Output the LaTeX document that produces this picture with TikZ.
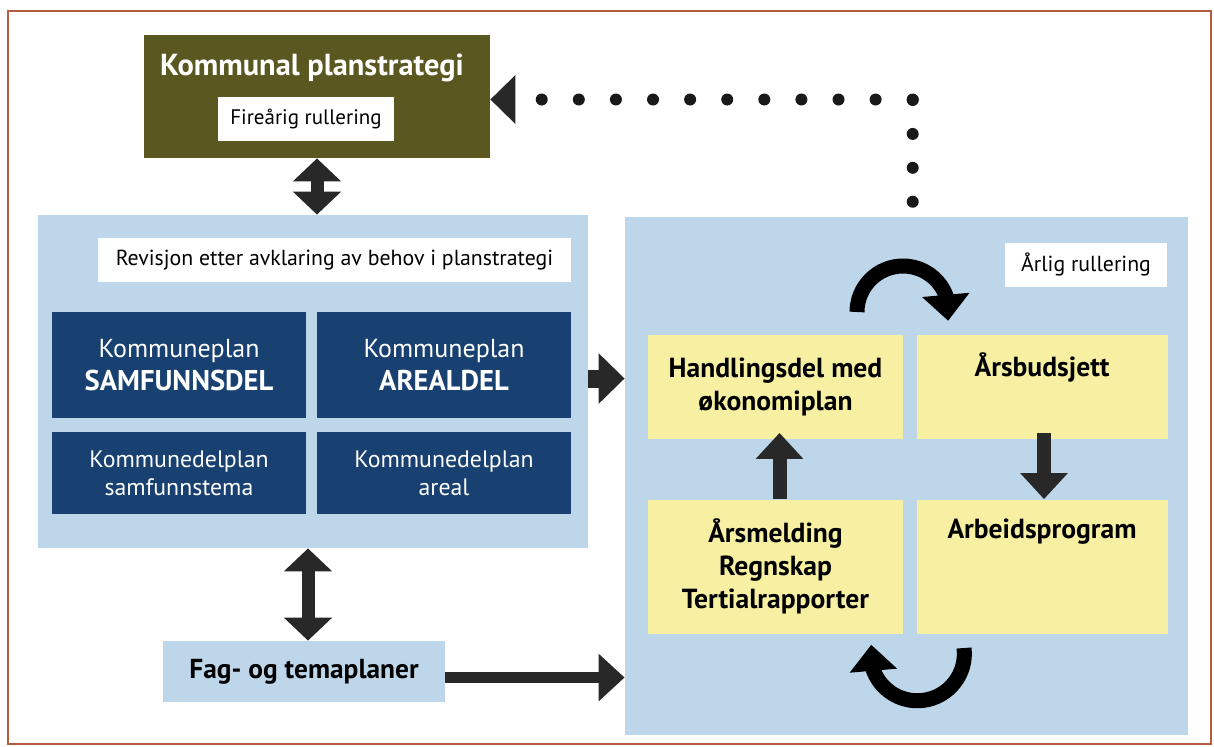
\documentclass[tikz,border=0pt]{standalone}
\usepackage{fontspec}
\setmainfont{PT Sans}
\usetikzlibrary{arrows.meta,bending}

\definecolor{framered}{RGB}{182,92,62}
\definecolor{strategyolive}{RGB}{90,88,32}
\definecolor{panelblue}{RGB}{189,214,234}
\definecolor{planblue}{RGB}{24,64,112}
\definecolor{actionyellow}{RGB}{247,240,163}
\definecolor{arrowgrey}{RGB}{40,40,40}

\begin{document}
\begin{tikzpicture}[x=0.5pt, y=-0.5pt,
    panel/.style={fill=panelblue, inner sep=0pt},
    labelbox/.style={fill=white, inner sep=0pt, minimum height=22pt, font=\fontsize{10.9}{12}\selectfont},
    planbox/.style={fill=planblue, text=white, inner sep=0pt, align=center, minimum width=127pt},
    actionbox/.style={fill=actionyellow, inner sep=0pt, align=center, font=\bfseries\fontsize{13.8}{16.5}\selectfont},
    fatarrow/.style={draw=arrowgrey, line width=7pt, -{Triangle[width=23pt,length=13pt]}},
    twoway/.style={draw=arrowgrey, line width=6.5pt, {Triangle[width=23.5pt,length=11.5pt]}-{Triangle[width=23.5pt,length=11.5pt]}},
    turnarrow/.style={draw=black, line width=7.5pt, -{Triangle[width=23pt,length=13pt]}},
    dotline/.style={draw=black!90, line width=6pt, line cap=round}]
\useasboundingbox (0,0) rectangle (1214,746);

% Outer frame
\draw[framered, line width=0.8pt] (8,11) rectangle (1211,744);

% Kommunal planstrategi
\node[fill=strategyolive, minimum width=173pt, minimum height=61.5pt] (strategi) at (317,96.5) {};
\node[text=white, font=\bfseries\fontsize{15.2}{18}\selectfont] (strategititle) at (312,68) {Kommunal planstrategi};
\node[labelbox, minimum width=88pt, font=\fontsize{10.5}{12}\selectfont] (firearig) at (306,119) {Fireårig rullering};

% Kommuneplanen (left panel)
\node[panel, minimum width=275pt, minimum height=166.5pt] (kommuneplan) at (313,381.5) {};
\node[labelbox, minimum width=236.5pt] (revisjon) at (334.5,260) {Revisjon etter avklaring av behov i planstrategi};
\node[planbox, minimum height=53pt, font=\fontsize{13}{16.5}\selectfont] (samfunnsdel) at (179,365)
    {Kommuneplan\\{\bfseries\fontsize{14.3}{16.5}\selectfont SAMFUNNSDEL}};
\node[planbox, minimum height=53pt, font=\fontsize{13}{16.5}\selectfont] (arealdel) at (444,365)
    {Kommuneplan\\{\bfseries\fontsize{14.3}{16.5}\selectfont AREALDEL}};
\node[planbox, minimum height=41pt, font=\fontsize{11.9}{14}\selectfont] (samfunnstema) at (179,473)
    {Kommunedelplan\\samfunnstema};
\node[planbox, minimum height=41pt, font=\fontsize{11.9}{14}\selectfont] (areal) at (444,473)
    {Kommunedelplan\\areal};

% Fag- og temaplaner
\node[panel, minimum width=141pt, minimum height=30.5pt, font=\bfseries\fontsize{13.7}{16}\selectfont] (fagplaner) at (304,671.5) {Fag- og temaplaner};

% Annual cycle (right panel)
\node[panel, minimum width=281.5pt, minimum height=259pt] (aarlig) at (906.5,476) {};
\node[labelbox, minimum width=81pt] (rullering) at (1086,265) {Årlig rullering};
\node[actionbox, minimum width=127.5pt, minimum height=52pt] (handlingsdel) at (775.5,386.5) {Handlingsdel med\\økonomiplan};
\node[actionbox, minimum width=125.5pt, minimum height=52pt] (budsjett) at (1042,386.5) {Årsbudsjett\\\strut};
\node[actionbox, minimum width=127.5pt, minimum height=67pt] (aarsmelding) at (775.5,566.5) {Årsmelding\\Regnskap\\Tertialrapporter};
\node[actionbox, minimum width=125.5pt, minimum height=67pt] (arbeidsprogram) at (1042,566.5) {Arbeidsprogram\\\strut\\\strut};

% Arrows between the blocks
\draw[twoway] (strategi.south) -- (strategi.south |- kommuneplan.north);
\draw[twoway] ([xshift=2pt]fagplaner.north |- kommuneplan.south) -- ([xshift=2pt]fagplaner.north);
\draw[fatarrow, line width=9pt, -{Triangle[width=24.5pt,length=13pt]}] ([yshift=1.5pt]kommuneplan.east) -- ([yshift=1.5pt]kommuneplan.east -| aarlig.west);
\draw[fatarrow, line width=5.5pt] ([yshift=-3pt]fagplaner.east) -- ([yshift=-3pt]fagplaner.east -| aarlig.west);
\draw[fatarrow] ([xshift=2pt]aarsmelding.north) -- ([xshift=2pt,yshift=3pt]handlingsdel.south);
\draw[fatarrow] ([xshift=1pt,yshift=3pt]budsjett.south) -- ([xshift=1pt]arbeidsprogram.north);

% Turning arrows
\draw[turnarrow] (857,312) arc[start angle=180, end angle=-11, radius=23pt];
\draw[turnarrow] (964,648) arc[start angle=7, end angle=-191, radius=23.5pt];

% Dotted return line
\coordinate (returnstart) at (912.7,201.7);
\coordinate (returncorner) at (912.7,99.5);
\draw[dotline, dash pattern=on 0pt off 16.95pt] (returnstart) -- (returncorner);
\draw[dotline, dash pattern=on 0pt off 18.55pt] (returncorner) -- (541.7,99.5);
\fill[arrowgrey] (strategi.east |- returncorner) -- ++(25,-24.5) -- ++(0,49) -- cycle;
\end{tikzpicture}
\end{document}
